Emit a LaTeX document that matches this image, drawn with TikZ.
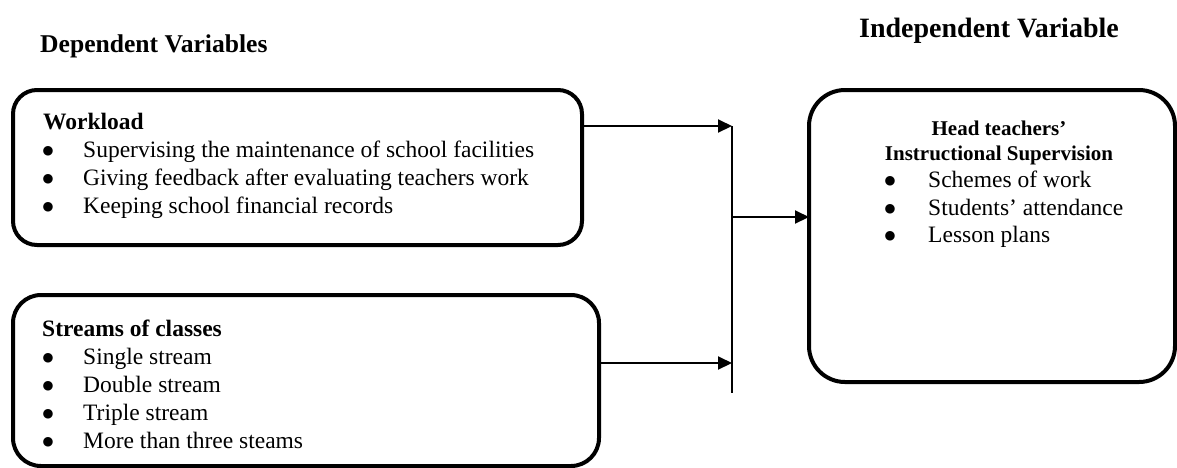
\documentclass[tikz,border=0pt]{standalone}
\usepackage{fontspec}
\setmainfont{Liberation Serif}
\newfontfamily\bulfont{DejaVu Sans}
\usetikzlibrary{arrows.meta}
\begin{document}
\begin{tikzpicture}[x=1pt,y=-1pt,
  box/.style={draw, line width=4pt, inner sep=0pt, outer sep=0pt, anchor=north west},
  conn/.style={line width=2pt},
  arrowconn/.style={conn, -{Triangle[length=14pt,width=13pt]}},
  txt/.style={anchor=base west, inner sep=0pt, font=\fontsize{23.5}{28}\selectfont},
  ttl/.style={anchor=base west, inner sep=0pt, font=\bfseries\fontsize{23.5}{28}\selectfont},
  rttl/.style={anchor=base, inner sep=0pt, font=\bfseries\fontsize{21}{25}\selectfont},
  bul/.style={anchor=base, inner sep=0pt, yshift=3pt, font=\bulfont\fontsize{12.5}{15}\selectfont},
  hdr/.style={anchor=base west, inner sep=0pt}
]
\useasboundingbox (0,0) rectangle (1177,467);
\clip (0,0) rectangle (1177,467);
\fill[white] (0,0) rectangle (1177,467);

% headings
\node[hdr, font=\bfseries\fontsize{25.6}{30}\selectfont] (dephdr) at (40,52) {Dependent Variables};
\node[hdr, font=\bfseries\fontsize{28}{32}\selectfont] (indhdr) at (859,37) {Independent Variable};

% boxes
\node[box, rounded corners=24pt, minimum width=569pt, minimum height=155pt] (work) at (13,90) {};
\node[box, rounded corners=28pt, minimum width=586pt, minimum height=171pt] (streams) at (13,295) {};
\node[box, rounded corners=36pt, minimum width=366pt, minimum height=292pt] (ind) at (809,90) {};

% workload text
\node[ttl] (wt) at (43,129) {Workload};
\node[bul] (wb1) at (48,157) {●};
\node[txt] (w1) at (83,157) {Supervising the maintenance of school facilities};
\node[bul] (wb2) at (48,185) {●};
\node[txt] (w2) at (83,185) {Giving feedback after evaluating teachers work};
\node[bul] (wb3) at (48,213) {●};
\node[txt] (w3) at (83,213) {Keeping school financial records};

% streams text
\node[ttl] (st) at (42,336) {Streams of classes};
\node[bul] (sb1) at (48,364) {●};
\node[txt] (s1) at (83,364) {Single stream};
\node[bul] (sb2) at (48,392) {●};
\node[txt] (s2) at (83,392) {Double stream};
\node[bul] (sb3) at (48,420) {●};
\node[txt] (s3) at (83,420) {Triple stream};
\node[bul] (sb4) at (48,448) {●};
\node[txt] (s4) at (83,448) {More than three steams};

% independent text
\node[rttl] (it1) at (999,135) {Head teachers’};
\node[rttl] (it2) at (999,160) {Instructional Supervision};
\node[bul] (ib1) at (890,187) {●};
\node[txt] (i1) at (928,187) {Schemes of work};
\node[bul] (ib2) at (890,215) {●};
\node[txt] (i2) at (928,215) {Students’ attendance};
\node[bul] (ib3) at (890,242) {●};
\node[txt] (i3) at (928,242) {Lesson plans};

% connectors
\coordinate (jtop) at (732,126);
\coordinate (jmid) at (732,217);
\coordinate (jlow) at (732,363);
\coordinate (jbot) at (732,393);
\draw[arrowconn] (work.east |- jtop) -- (jtop);
\draw[arrowconn] (streams.east |- jlow) -- (jlow);
\draw[conn] (jtop) -- (jbot);
\draw[arrowconn] (jmid) -- (ind.west |- jmid);
\end{tikzpicture}
\end{document}
